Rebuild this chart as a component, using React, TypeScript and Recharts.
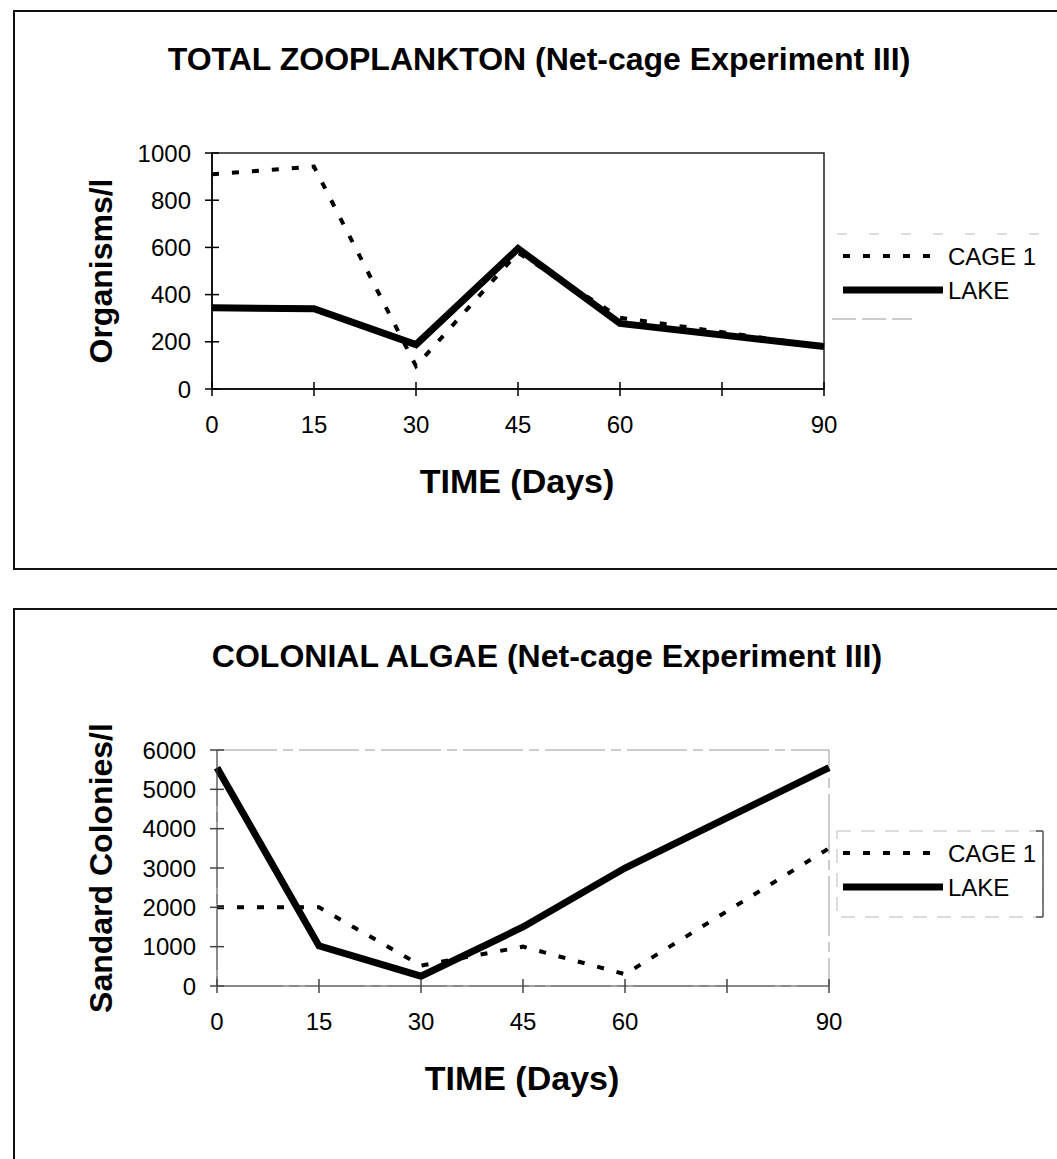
import { LineChart, Line, XAxis, YAxis, ReferenceArea, Legend } from 'recharts'

// sampling days (x) and the tick marks shown on the time axis
const DAYS = [0, 15, 30, 45, 60, 90]
const X_TICKS = [0, 15, 30, 45, 60, 75, 90]
const X_TICK_LABELS = ['0', '15', '30', '45', '60', '', '90']

// total zooplankton, organisms/l
const ZOO_CAGE = [910, 942, 97, 578, 302, 180]
const ZOO_LAKE = [344, 340, 188, 595, 278, 180]
const ZOO_Y_TICKS = [0, 200, 400, 600, 800, 1000]

// colonial algae, standard colonies/l
const ALGAE_CAGE = [2000, 2000, 520, 1000, 300, 3500]
const ALGAE_LAKE = [5550, 1020, 250, 1500, 3000, 5550]
const ALGAE_Y_TICKS = [0, 1000, 2000, 3000, 4000, 5000, 6000]

const FONT = '"Liberation Sans", Arial, Helvetica, sans-serif'
const TICK_FS = 24

type Row = { day: number; cage: number; lake: number }

function rows(cage: number[], lake: number[]): Row[] {
  return DAYS.map((d, i) => ({ day: d, cage: cage[i], lake: lake[i] }))
}

function YTick(props: any) {
  const { x, y, payload, stroke } = props
  return (
    <g>
      <line x1={x + 14} x2={x + 28} y1={y} y2={y} stroke={stroke} strokeWidth={1.5} />
      <text x={x} y={y} dy="0.36em" textAnchor="end" fontSize={TICK_FS} fontFamily={FONT} fill="#000">
        {payload.value}
      </text>
    </g>
  )
}

function XTick(props: any) {
  const { x, y, payload, stroke } = props
  const label = X_TICK_LABELS[X_TICKS.indexOf(payload.value)]
  return (
    <g>
      <line x1={x} x2={x} y1={y - 35} y2={y - 21} stroke={stroke} strokeWidth={1.5} />
      <text x={x} y={y} dy="0.68em" textAnchor="middle" fontSize={TICK_FS} fontFamily={FONT} fill="#000">
        {label}
      </text>
    </g>
  )
}

function LegendBox({ boxed }: { boxed: boolean }) {
  return (
    <svg width={220} height={96} style={{ display: 'block' }}>
      {boxed ? (
        <>
          <rect x={5} y={4} width={206} height={86} fill="none" stroke="#bbb" strokeWidth={1} strokeDasharray="14 10" />
          <line x1={211} x2={211} y1={4} y2={90} stroke="#555" strokeWidth={1.5} />
          <line x1={204} x2={211} y1={4} y2={4} stroke="#555" strokeWidth={1.5} />
          <line x1={204} x2={211} y1={90} y2={90} stroke="#555" strokeWidth={1.5} />
        </>
      ) : (
        <>
          <line x1={5} x2={215} y1={4} y2={4} stroke="#bbb" strokeWidth={1} strokeDasharray="10 22" />
          <line x1={0} x2={80} y1={89} y2={89} stroke="#999" strokeWidth={1} strokeDasharray="24 6" />
        </>
      )}
      <line x1={11} x2={111} y1={26} y2={26} stroke="#000" strokeWidth={4} strokeDasharray="7 13" />
      <text x={116} y={26} dy="0.36em" fontSize={TICK_FS} fontFamily={FONT} fill="#000">
        CAGE 1
      </text>
      <line x1={11} x2={111} y1={60} y2={60} stroke="#000" strokeWidth={7} />
      <text x={116} y={60} dy="0.36em" fontSize={TICK_FS} fontFamily={FONT} fill="#000">
        LAKE
      </text>
    </svg>
  )
}

function Panel({
  top,
  boxTop,
  boxHeight,
  title,
  titleX,
  yLabel,
  data,
  yMax,
  yTicks,
  plotLeft,
  plotRight,
  faint,
}: {
  top: number
  boxTop: number
  boxHeight: number
  title: string
  titleX: number
  yLabel: string
  data: Row[]
  yMax: number
  yTicks: number[]
  plotLeft: number
  plotRight: number
  faint: boolean
}) {
  const axisColor = faint ? '#444' : '#000'
  return (
    <div style={{ position: 'absolute', left: 0, top, width: 1057, height: 600 }}>
      <div
        style={{
          position: 'absolute',
          left: 13,
          top: boxTop,
          width: 1100,
          height: boxHeight,
          border: '2px solid #111',
          boxSizing: 'border-box',
        }}
      />
      <div
        style={{
          position: 'absolute',
          left: titleX - 450,
          width: 900,
          top: 43,
          textAlign: 'center',
          fontFamily: FONT,
          fontWeight: 'bold',
          fontSize: 32,
          lineHeight: '32px',
          whiteSpace: 'nowrap',
        }}
      >
        {title}
      </div>
      <div
        style={{
          position: 'absolute',
          left: 101 - 200,
          top: 271 - 18,
          width: 400,
          textAlign: 'center',
          fontFamily: FONT,
          fontWeight: 'bold',
          fontSize: 32,
          lineHeight: '36px',
          whiteSpace: 'nowrap',
          transform: 'rotate(-90deg)',
        }}
      >
        {yLabel}
      </div>
      <div
        style={{
          position: 'absolute',
          left: (plotLeft + plotRight) / 2 - 1 - 200,
          top: 481 - 18,
          width: 400,
          textAlign: 'center',
          fontFamily: FONT,
          fontWeight: 'bold',
          fontSize: 34,
          lineHeight: '36px',
        }}
      >
        TIME (Days)
      </div>
      <div style={{ position: 'absolute', left: 0, top: 0 }}>
        <LineChart
          width={1057}
          height={560}
          data={data}
          margin={{ top: 153, bottom: 560 - 389 - 40, left: plotLeft - 80, right: 1057 - plotRight }}
        >
          <XAxis
            type="number"
            dataKey="day"
            domain={[0, 90]}
            ticks={X_TICKS}
            interval={0}
            height={40}
            tickSize={7}
            tickMargin={21}
            tickLine={false}
            axisLine={{ stroke: axisColor, strokeWidth: faint ? 1 : 1.5 }}
            tick={<XTick stroke={axisColor} />}
          />
          <YAxis
            type="number"
            domain={[0, yMax]}
            ticks={yTicks}
            interval={0}
            width={80}
            tickSize={7}
            tickMargin={14}
            tickLine={false}
            axisLine={{ stroke: axisColor, strokeWidth: faint ? 1 : 1.5 }}
            tick={<YTick stroke={axisColor} />}
          />
          <ReferenceArea
            x1={0}
            x2={90}
            y1={0}
            y2={yMax}
            fill="none"
            fillOpacity={0}
            stroke={faint ? '#999' : '#222'}
            strokeWidth={faint ? 1 : 1.5}
            strokeDasharray={faint ? '60 6 10 6' : undefined}
          />
          <Legend
            layout="horizontal"
            verticalAlign="middle"
            align="center"
            wrapperStyle={{ left: 832, top: 230, width: 220, height: 96 }}
            content={() => <LegendBox boxed={faint} />}
          />
          <Line
            type="linear"
            dataKey="cage"
            name="CAGE 1"
            stroke="#000"
            strokeWidth={4}
            strokeDasharray="7 13"
            dot={false}
            activeDot={false}
            isAnimationActive={false}
          />
          <Line
            type="linear"
            dataKey="lake"
            name="LAKE"
            stroke="#000"
            strokeWidth={7}
            dot={false}
            activeDot={false}
            isAnimationActive={false}
          />
        </LineChart>
      </div>
    </div>
  )
}

export default function App() {
  return (
    <div style={{ position: 'relative', width: 1057, height: 1159, overflow: 'hidden', background: '#fff' }}>
      <style>{`body { margin: 0; overflow: hidden; background: #fff; }`}</style>
      <Panel
        top={0}
        boxTop={10}
        boxHeight={560}
        title="TOTAL ZOOPLANKTON (Net-cage Experiment III)"
        titleX={539}
        yLabel="Organisms/l"
        data={rows(ZOO_CAGE, ZOO_LAKE)}
        yMax={1000}
        yTicks={ZOO_Y_TICKS}
        plotLeft={212}
        plotRight={824}
        faint={false}
      />
      <Panel
        top={597}
        boxTop={11}
        boxHeight={600}
        title="COLONIAL ALGAE (Net-cage Experiment III)"
        titleX={547}
        yLabel="Sandard Colonies/l"
        data={rows(ALGAE_CAGE, ALGAE_LAKE)}
        yMax={6000}
        yTicks={ALGAE_Y_TICKS}
        plotLeft={217}
        plotRight={829}
        faint={true}
      />
    </div>
  )
}
